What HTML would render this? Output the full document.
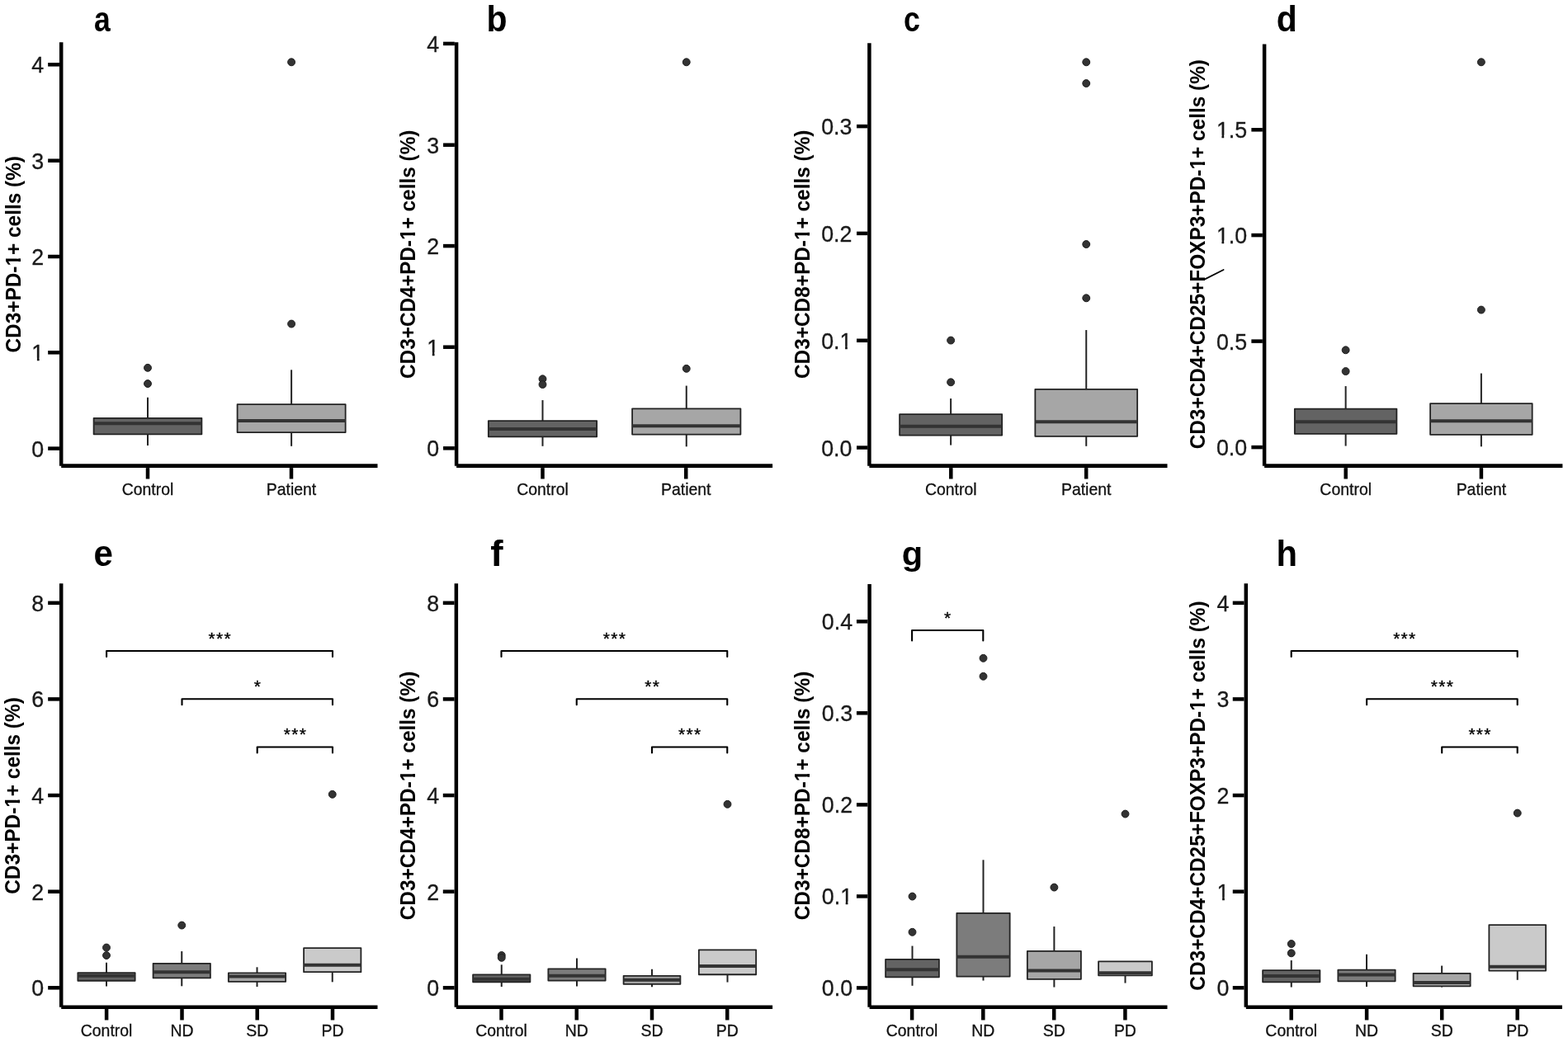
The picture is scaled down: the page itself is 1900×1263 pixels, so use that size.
<!DOCTYPE html>
<html lang="en">
<head>
<meta charset="utf-8">
<title>PD-1+ cell subsets box plots</title>
<style>
html,body{margin:0;padding:0;background:#fff;}
body{width:1900px;height:1263px;overflow:hidden;}
svg{display:block;}
text{font-family:"Liberation Sans",sans-serif;fill:#1a1a1a;}
.yt{font-size:26.8px;text-anchor:end;stroke:#1a1a1a;stroke-width:0.3;}
.xt{font-size:19.45px;text-anchor:middle;fill:#111;stroke:#111;stroke-width:0.3;}
.ttl{font-size:24.4px;font-weight:bold;text-anchor:middle;fill:#000;}
.ltr{font-size:36px;font-weight:bold;fill:#000;}
.star{font-size:21.0px;text-anchor:middle;fill:#000;letter-spacing:1.3px;stroke:#000;stroke-width:0.35;}
.ax{stroke:#000;stroke-width:4.5;fill:none;}
.tk{stroke:#000;stroke-width:4.5;fill:none;}
.bx{stroke:#232323;stroke-width:1.8;stroke-linejoin:round;}
.md{stroke:#333333;stroke-width:4.0;}
.wh{stroke:#232323;stroke-width:2.0;}
.br{stroke:#000;stroke-width:2.1;fill:none;stroke-linejoin:round;stroke-linecap:round;}
.pt{fill:#333333;stroke:#1e1e1e;stroke-width:1;}
</style>
</head>
<body>
<svg width="1900" height="1263" viewBox="0 0 1900 1263">
<rect x="0" y="0" width="1900" height="1263" fill="#ffffff"/>

<g id="panel-a">
<text class="ltr" transform="translate(114.09,37.87) scale(0.9849,1.1923)">a</text>
<text class="ttl" transform="translate(24.6,308.3) rotate(-90) scale(1,1.05)">CD3+PD-1+ cells (%)</text>
<g transform="translate(24.6,308.3) rotate(-90) scale(1,1.05) translate(-14.27,0)"><rect x="0.52" y="-4.00" width="4.98" height="6.20" fill="#fff"/><rect x="9.23" y="-4.00" width="4.67" height="6.20" fill="#fff"/></g>
<line class="wh" x1="179" y1="481.8" x2="179" y2="506.8"/>
<line class="wh" x1="179" y1="526.3" x2="179" y2="540.05"/>
<rect class="bx" x="113.6" y="506.8" width="130.8" height="19.5" fill="#636363"/>
<line class="md" x1="113.6" y1="513.3" x2="244.4" y2="513.3"/>
<circle class="pt" cx="179" cy="445.8" r="4.45"/>
<circle class="pt" cx="179" cy="465.05" r="4.45"/>
<line class="wh" x1="353.12" y1="448.3" x2="353.12" y2="490.05"/>
<line class="wh" x1="353.12" y1="524.05" x2="353.12" y2="540.8"/>
<rect class="bx" x="287.6" y="490.05" width="131.05" height="34" fill="#a6a6a6"/>
<line class="md" x1="287.6" y1="510.05" x2="418.65" y2="510.05"/>
<circle class="pt" cx="353.12" cy="392.55" r="4.45"/>
<circle class="pt" cx="353.12" cy="75.3" r="4.45"/>
<line class="ax" x1="74.2" y1="51.3" x2="74.2" y2="564.65"/>
<line class="ax" style="stroke-width:4.9" x1="74.2" y1="564.65" x2="457.5" y2="564.65"/>
<line class="tk" x1="58.15" y1="543.6" x2="71.95" y2="543.6"/>
<text class="yt" transform="translate(53.25,553.67) scale(1,1.05)">0</text>
<line class="tk" x1="58.15" y1="427.3" x2="71.95" y2="427.3"/>
<text class="yt" transform="translate(53.25,437.37) scale(1,1.05)">1</text>
<g transform="translate(38.35,437.37) scale(1,1.05)"><rect x="1.04" y="-3.51" width="5.49" height="5.71" fill="#fff"/><rect x="9.31" y="-3.51" width="5.29" height="5.71" fill="#fff"/></g>
<line class="tk" x1="58.15" y1="311" x2="71.95" y2="311"/>
<text class="yt" transform="translate(53.25,321.07) scale(1,1.05)">2</text>
<line class="tk" x1="58.15" y1="194.7" x2="71.95" y2="194.7"/>
<text class="yt" transform="translate(53.25,204.77) scale(1,1.05)">3</text>
<line class="tk" x1="58.15" y1="78.3" x2="71.95" y2="78.3"/>
<text class="yt" transform="translate(53.25,88.37) scale(1,1.05)">4</text>
<line class="tk" x1="179" y1="567.1" x2="179" y2="580.5"/>
<text class="xt" transform="translate(179,599.55) scale(1,1.03)">Control</text>
<line class="tk" x1="353" y1="567.1" x2="353" y2="580.5"/>
<text class="xt" transform="translate(353,599.55) scale(1,1.03)">Patient</text>
</g>
<g id="panel-b">
<text class="ltr" transform="translate(589.44,37.66) scale(1.1386,1.2245)">b</text>
<text class="ttl" transform="translate(502.9,308.3) rotate(-90) scale(1,1.05)">CD3+CD4+PD-1+ cells (%)</text>
<g transform="translate(502.9,308.3) rotate(-90) scale(1,1.05) translate(17.27,0)"><rect x="0.52" y="-4.00" width="4.98" height="6.20" fill="#fff"/><rect x="9.23" y="-4.00" width="4.67" height="6.20" fill="#fff"/></g>
<line class="wh" x1="657.5" y1="485.05" x2="657.5" y2="510.05"/>
<line class="wh" x1="657.5" y1="529.3" x2="657.5" y2="540.8"/>
<rect class="bx" x="591.85" y="510.05" width="131.3" height="19.25" fill="#636363"/>
<line class="md" x1="591.85" y1="520.05" x2="723.15" y2="520.05"/>
<circle class="pt" cx="657.5" cy="459.3" r="4.45"/>
<circle class="pt" cx="657.5" cy="466" r="4.45"/>
<line class="wh" x1="831.75" y1="467.55" x2="831.75" y2="495.3"/>
<line class="wh" x1="831.75" y1="526.55" x2="831.75" y2="541.3"/>
<rect class="bx" x="766.1" y="495.3" width="131.3" height="31.25" fill="#a6a6a6"/>
<line class="md" x1="766.1" y1="516.3" x2="897.4" y2="516.3"/>
<circle class="pt" cx="831.75" cy="446.8" r="4.45"/>
<circle class="pt" cx="831.75" cy="75.3" r="4.45"/>
<line class="ax" x1="553.1" y1="51.3" x2="553.1" y2="564.65"/>
<line class="ax" style="stroke-width:4.9" x1="553.1" y1="564.65" x2="936.1" y2="564.65"/>
<line class="tk" x1="537.05" y1="543.3" x2="550.85" y2="543.3"/>
<text class="yt" transform="translate(532.15,553.37) scale(1,1.05)">0</text>
<line class="tk" x1="537.05" y1="420.7" x2="550.85" y2="420.7"/>
<text class="yt" transform="translate(532.15,430.77) scale(1,1.05)">1</text>
<g transform="translate(517.25,430.77) scale(1,1.05)"><rect x="1.04" y="-3.51" width="5.49" height="5.71" fill="#fff"/><rect x="9.31" y="-3.51" width="5.29" height="5.71" fill="#fff"/></g>
<line class="tk" x1="537.05" y1="298.1" x2="550.85" y2="298.1"/>
<text class="yt" transform="translate(532.15,308.17) scale(1,1.05)">2</text>
<line class="tk" x1="537.05" y1="175.7" x2="550.85" y2="175.7"/>
<text class="yt" transform="translate(532.15,185.77) scale(1,1.05)">3</text>
<line class="tk" x1="537.05" y1="52.9" x2="550.85" y2="52.9"/>
<text class="yt" transform="translate(532.15,62.97) scale(1,1.05)">4</text>
<line class="tk" x1="657.5" y1="567.1" x2="657.5" y2="580.5"/>
<text class="xt" transform="translate(657.5,599.55) scale(1,1.03)">Control</text>
<line class="tk" x1="831.25" y1="567.1" x2="831.25" y2="580.5"/>
<text class="xt" transform="translate(831.25,599.55) scale(1,1.03)">Patient</text>
</g>
<g id="panel-c">
<text class="ltr" transform="translate(1094.97,38.07) scale(0.9949,1.2024)">c</text>
<text class="ttl" transform="translate(981.4,308.3) rotate(-90) scale(1,1.05)">CD3+CD8+PD-1+ cells (%)</text>
<g transform="translate(981.4,308.3) rotate(-90) scale(1,1.05) translate(17.27,0)"><rect x="0.52" y="-4.00" width="4.98" height="6.20" fill="#fff"/><rect x="9.23" y="-4.00" width="4.67" height="6.20" fill="#fff"/></g>
<line class="wh" x1="1152.12" y1="483.05" x2="1152.12" y2="502.05"/>
<line class="wh" x1="1152.12" y1="527.55" x2="1152.12" y2="539.55"/>
<rect class="bx" x="1090.1" y="502.05" width="124.05" height="25.5" fill="#636363"/>
<line class="md" x1="1090.1" y1="516.8" x2="1214.15" y2="516.8"/>
<circle class="pt" cx="1152.12" cy="412.55" r="4.45"/>
<circle class="pt" cx="1152.12" cy="463.3" r="4.45"/>
<line class="wh" x1="1316.25" y1="400.05" x2="1316.25" y2="471.8"/>
<line class="wh" x1="1316.25" y1="528.8" x2="1316.25" y2="540.8"/>
<rect class="bx" x="1254.35" y="471.8" width="123.8" height="57" fill="#a6a6a6"/>
<line class="md" x1="1254.35" y1="511.3" x2="1378.15" y2="511.3"/>
<circle class="pt" cx="1316.25" cy="361.3" r="4.45"/>
<circle class="pt" cx="1316.25" cy="296.05" r="4.45"/>
<circle class="pt" cx="1316.25" cy="101.05" r="4.45"/>
<circle class="pt" cx="1316.25" cy="75.3" r="4.45"/>
<line class="ax" x1="1053.4" y1="52.3" x2="1053.4" y2="564.65"/>
<line class="ax" style="stroke-width:4.9" x1="1053.4" y1="564.65" x2="1414.5" y2="564.65"/>
<line class="tk" x1="1038.05" y1="542.55" x2="1051.15" y2="542.55"/>
<text class="yt" transform="translate(1032.45,552.62) scale(1,1.05)">0.0</text>
<line class="tk" x1="1038.05" y1="412.75" x2="1051.15" y2="412.75"/>
<text class="yt" transform="translate(1032.45,422.82) scale(1,1.05)">0.1</text>
<g transform="translate(1017.55,422.82) scale(1,1.05)"><rect x="1.04" y="-3.51" width="5.49" height="5.71" fill="#fff"/><rect x="9.31" y="-3.51" width="5.29" height="5.71" fill="#fff"/></g>
<line class="tk" x1="1038.05" y1="282.9" x2="1051.15" y2="282.9"/>
<text class="yt" transform="translate(1032.45,292.97) scale(1,1.05)">0.2</text>
<line class="tk" x1="1038.05" y1="153.1" x2="1051.15" y2="153.1"/>
<text class="yt" transform="translate(1032.45,163.17) scale(1,1.05)">0.3</text>
<line class="tk" x1="1152.3" y1="567.1" x2="1152.3" y2="580.5"/>
<text class="xt" transform="translate(1152.3,599.55) scale(1,1.03)">Control</text>
<line class="tk" x1="1316.2" y1="567.1" x2="1316.2" y2="580.5"/>
<text class="xt" transform="translate(1316.2,599.55) scale(1,1.03)">Patient</text>
</g>
<g id="panel-d">
<text class="ltr" transform="translate(1546.72,37.86) scale(1.1364,1.2320)">d</text>
<text class="ttl" transform="translate(1460.1,308.2) rotate(-90) scale(1,1.05)">CD3+CD4+CD25+FOXP3+PD-1+ cells (%)</text>
<g transform="translate(1460.1,308.2) rotate(-90) scale(1,1.05) translate(102.66,0)"><rect x="0.52" y="-4.00" width="4.98" height="6.20" fill="#fff"/><rect x="9.23" y="-4.00" width="4.67" height="6.20" fill="#fff"/></g>
<line class="wh" x1="1630.62" y1="468.05" x2="1630.62" y2="495.55"/>
<line class="wh" x1="1630.62" y1="525.8" x2="1630.62" y2="540.55"/>
<rect class="bx" x="1568.85" y="495.55" width="123.55" height="30.25" fill="#636363"/>
<line class="md" x1="1568.85" y1="511.3" x2="1692.4" y2="511.3"/>
<circle class="pt" cx="1630.62" cy="424.3" r="4.45"/>
<circle class="pt" cx="1630.62" cy="450.05" r="4.45"/>
<line class="wh" x1="1794.88" y1="452.55" x2="1794.88" y2="489.05"/>
<line class="wh" x1="1794.88" y1="526.8" x2="1794.88" y2="541.3"/>
<rect class="bx" x="1733.1" y="489.05" width="123.55" height="37.75" fill="#a6a6a6"/>
<line class="md" x1="1733.1" y1="510.3" x2="1856.65" y2="510.3"/>
<circle class="pt" cx="1794.88" cy="375.55" r="4.45"/>
<circle class="pt" cx="1794.88" cy="75.3" r="4.45"/>
<line class="ax" x1="1532.1" y1="53.5" x2="1532.1" y2="564.65"/>
<line class="ax" style="stroke-width:4.9" x1="1532.1" y1="564.65" x2="1893.4" y2="564.65"/>
<line class="tk" x1="1516.35" y1="542.1" x2="1529.85" y2="542.1"/>
<text class="yt" transform="translate(1511.15,552.17) scale(1,1.05)">0.0</text>
<line class="tk" x1="1516.35" y1="413.6" x2="1529.85" y2="413.6"/>
<text class="yt" transform="translate(1511.15,423.67) scale(1,1.05)">0.5</text>
<line class="tk" x1="1516.35" y1="285.1" x2="1529.85" y2="285.1"/>
<text class="yt" transform="translate(1511.15,295.17) scale(1,1.05)">1.0</text>
<g transform="translate(1473.89,295.17) scale(1,1.05)"><rect x="1.04" y="-3.51" width="5.49" height="5.71" fill="#fff"/><rect x="9.31" y="-3.51" width="5.29" height="5.71" fill="#fff"/></g>
<line class="tk" x1="1516.35" y1="157.3" x2="1529.85" y2="157.3"/>
<text class="yt" transform="translate(1511.15,167.37) scale(1,1.05)">1.5</text>
<g transform="translate(1473.89,167.37) scale(1,1.05)"><rect x="1.04" y="-3.51" width="5.49" height="5.71" fill="#fff"/><rect x="9.31" y="-3.51" width="5.29" height="5.71" fill="#fff"/></g>
<line class="tk" x1="1630.7" y1="567.1" x2="1630.7" y2="580.5"/>
<text class="xt" transform="translate(1630.7,599.55) scale(1,1.03)">Control</text>
<line class="tk" x1="1794.9" y1="567.1" x2="1794.9" y2="580.5"/>
<text class="xt" transform="translate(1794.9,599.55) scale(1,1.03)">Patient</text>
<line x1="1459.6" y1="338.6" x2="1482.6" y2="327.0" stroke="#050505" stroke-width="1.8" stroke-linecap="round"/>
</g>
<g id="panel-e">
<text class="ltr" transform="translate(113.47,686.43) scale(1.1693,1.2111)">e</text>
<text class="ttl" transform="translate(24.2,964.5) rotate(-90) scale(1,1.05)">CD3+PD-1+ cells (%)</text>
<g transform="translate(24.2,964.5) rotate(-90) scale(1,1.05) translate(-14.27,0)"><rect x="0.52" y="-4.00" width="4.98" height="6.20" fill="#fff"/><rect x="9.23" y="-4.00" width="4.67" height="6.20" fill="#fff"/></g>
<line class="wh" x1="129" y1="1166.8" x2="129" y2="1179.05"/>
<line class="wh" x1="129" y1="1188.75" x2="129" y2="1195.55"/>
<rect class="bx" x="94.35" y="1179.05" width="69.3" height="9.7" fill="#636363"/>
<line class="md" x1="94.35" y1="1182.7" x2="163.65" y2="1182.7"/>
<circle class="pt" cx="129" cy="1148.55" r="4.45"/>
<circle class="pt" cx="129" cy="1158.05" r="4.45"/>
<line class="wh" x1="220.25" y1="1153.05" x2="220.25" y2="1167.8"/>
<line class="wh" x1="220.25" y1="1185.4" x2="220.25" y2="1195.3"/>
<rect class="bx" x="185.6" y="1167.8" width="69.3" height="17.6" fill="#7c7c7c"/>
<line class="md" x1="185.6" y1="1178.2" x2="254.9" y2="1178.2"/>
<circle class="pt" cx="220.25" cy="1121.55" r="4.45"/>
<line class="wh" x1="311.5" y1="1172.3" x2="311.5" y2="1179.45"/>
<line class="wh" x1="311.5" y1="1189.8" x2="311.5" y2="1196.05"/>
<rect class="bx" x="276.85" y="1179.45" width="69.3" height="10.35" fill="#a6a6a6"/>
<line class="md" x1="276.85" y1="1183.55" x2="346.15" y2="1183.55"/>
<line class="wh" x1="402.75" y1="1178.15" x2="402.75" y2="1190.3"/>
<rect class="bx" x="368.1" y="1149.05" width="69.3" height="29.1" fill="#cacaca"/>
<line class="md" x1="368.1" y1="1169.8" x2="437.4" y2="1169.8"/>
<circle class="pt" cx="402.75" cy="962.8" r="4.45"/>
<path class="br" d="M129.1 796.05V789.05H403V796.05"/>
<text class="star" x="266.7" y="780.55">***</text>
<path class="br" d="M220.5 854.3V847.3H403V854.3"/>
<text class="star" x="312.4" y="838.8">*</text>
<path class="br" d="M311.7 912.55V905.55H403V912.55"/>
<text class="star" x="358" y="897.05">***</text>
<line class="ax" x1="74.2" y1="707.3" x2="74.2" y2="1220.8"/>
<line class="ax" style="stroke-width:4.5" x1="74.2" y1="1220.8" x2="457.5" y2="1220.8"/>
<line class="tk" x1="58.15" y1="1197.3" x2="71.95" y2="1197.3"/>
<text class="yt" transform="translate(53.25,1207.37) scale(1,1.05)">0</text>
<line class="tk" x1="58.15" y1="1080.7" x2="71.95" y2="1080.7"/>
<text class="yt" transform="translate(53.25,1090.77) scale(1,1.05)">2</text>
<line class="tk" x1="58.15" y1="964.05" x2="71.95" y2="964.05"/>
<text class="yt" transform="translate(53.25,974.12) scale(1,1.05)">4</text>
<line class="tk" x1="58.15" y1="847.4" x2="71.95" y2="847.4"/>
<text class="yt" transform="translate(53.25,857.47) scale(1,1.05)">6</text>
<line class="tk" x1="58.15" y1="730.8" x2="71.95" y2="730.8"/>
<text class="yt" transform="translate(53.25,740.87) scale(1,1.05)">8</text>
<line class="tk" x1="129.1" y1="1223.05" x2="129.1" y2="1236.45"/>
<text class="xt" transform="translate(129.1,1255.95) scale(1,1.03)">Control</text>
<line class="tk" x1="220.5" y1="1223.05" x2="220.5" y2="1236.45"/>
<text class="xt" transform="translate(220.5,1255.95) scale(1,1.06)">ND</text>
<line class="tk" x1="311.7" y1="1223.05" x2="311.7" y2="1236.45"/>
<text class="xt" transform="translate(311.7,1255.95) scale(1,1.06)">SD</text>
<line class="tk" x1="403" y1="1223.05" x2="403" y2="1236.45"/>
<text class="xt" transform="translate(403,1255.95) scale(1,1.06)">PD</text>
</g>
<g id="panel-f">
<text class="ltr" transform="translate(594.16,686.00) scale(1.2782,1.2490)">f</text>
<text class="ttl" transform="translate(502.9,964.5) rotate(-90) scale(1,1.05)">CD3+CD4+PD-1+ cells (%)</text>
<g transform="translate(502.9,964.5) rotate(-90) scale(1,1.05) translate(17.27,0)"><rect x="0.52" y="-4.00" width="4.98" height="6.20" fill="#fff"/><rect x="9.23" y="-4.00" width="4.67" height="6.20" fill="#fff"/></g>
<line class="wh" x1="607.75" y1="1169.3" x2="607.75" y2="1181.45"/>
<line class="wh" x1="607.75" y1="1190.25" x2="607.75" y2="1196.05"/>
<rect class="bx" x="573.1" y="1181.45" width="69.3" height="8.8" fill="#636363"/>
<line class="md" x1="573.1" y1="1186.7" x2="642.4" y2="1186.7"/>
<circle class="pt" cx="607.75" cy="1158" r="4.45"/>
<circle class="pt" cx="607.75" cy="1160.8" r="4.45"/>
<line class="wh" x1="699" y1="1161.55" x2="699" y2="1174.3"/>
<line class="wh" x1="699" y1="1188.55" x2="699" y2="1195.55"/>
<rect class="bx" x="664.35" y="1174.3" width="69.3" height="14.25" fill="#7c7c7c"/>
<line class="md" x1="664.35" y1="1182.7" x2="733.65" y2="1182.7"/>
<line class="wh" x1="790" y1="1174.8" x2="790" y2="1182.8"/>
<line class="wh" x1="790" y1="1192.8" x2="790" y2="1196.3"/>
<rect class="bx" x="755.6" y="1182.8" width="68.8" height="10" fill="#a6a6a6"/>
<line class="md" x1="755.6" y1="1187.8" x2="824.4" y2="1187.8"/>
<line class="wh" x1="881.5" y1="1181.25" x2="881.5" y2="1190.55"/>
<rect class="bx" x="846.85" y="1151.3" width="69.3" height="29.95" fill="#cacaca"/>
<line class="md" x1="846.85" y1="1170.9" x2="916.15" y2="1170.9"/>
<circle class="pt" cx="881.5" cy="974.8" r="4.45"/>
<path class="br" d="M607.5 796.05V789.05H881.25V796.05"/>
<text class="star" x="745.02" y="780.55">***</text>
<path class="br" d="M698.75 854.3V847.3H881.25V854.3"/>
<text class="star" x="790.65" y="838.8">**</text>
<path class="br" d="M790 912.55V905.55H881.25V912.55"/>
<text class="star" x="836.27" y="897.05">***</text>
<line class="ax" x1="552.85" y1="707.3" x2="552.85" y2="1220.8"/>
<line class="ax" style="stroke-width:4.5" x1="552.85" y1="1220.8" x2="936.1" y2="1220.8"/>
<line class="tk" x1="536.8" y1="1197.3" x2="550.6" y2="1197.3"/>
<text class="yt" transform="translate(532.15,1207.37) scale(1,1.05)">0</text>
<line class="tk" x1="536.8" y1="1080.7" x2="550.6" y2="1080.7"/>
<text class="yt" transform="translate(532.15,1090.77) scale(1,1.05)">2</text>
<line class="tk" x1="536.8" y1="964.05" x2="550.6" y2="964.05"/>
<text class="yt" transform="translate(532.15,974.12) scale(1,1.05)">4</text>
<line class="tk" x1="536.8" y1="847.4" x2="550.6" y2="847.4"/>
<text class="yt" transform="translate(532.15,857.47) scale(1,1.05)">6</text>
<line class="tk" x1="536.8" y1="730.8" x2="550.6" y2="730.8"/>
<text class="yt" transform="translate(532.15,740.87) scale(1,1.05)">8</text>
<line class="tk" x1="607.5" y1="1223.05" x2="607.5" y2="1236.45"/>
<text class="xt" transform="translate(607.5,1255.95) scale(1,1.03)">Control</text>
<line class="tk" x1="698.75" y1="1223.05" x2="698.75" y2="1236.45"/>
<text class="xt" transform="translate(698.75,1255.95) scale(1,1.06)">ND</text>
<line class="tk" x1="790" y1="1223.05" x2="790" y2="1236.45"/>
<text class="xt" transform="translate(790,1255.95) scale(1,1.06)">SD</text>
<line class="tk" x1="881.25" y1="1223.05" x2="881.25" y2="1236.45"/>
<text class="xt" transform="translate(881.25,1255.95) scale(1,1.06)">PD</text>
</g>
<g id="panel-g">
<text class="ltr" transform="translate(1092.78,685.27) scale(1.1562,1.1407)">g</text>
<text class="ttl" transform="translate(980.9,964.5) rotate(-90) scale(1,1.05)">CD3+CD8+PD-1+ cells (%)</text>
<g transform="translate(980.9,964.5) rotate(-90) scale(1,1.05) translate(17.27,0)"><rect x="0.52" y="-4.00" width="4.98" height="6.20" fill="#fff"/><rect x="9.23" y="-4.00" width="4.67" height="6.20" fill="#fff"/></g>
<line class="wh" x1="1105.5" y1="1146.55" x2="1105.5" y2="1162.8"/>
<line class="wh" x1="1105.5" y1="1184.3" x2="1105.5" y2="1194.8"/>
<rect class="bx" x="1073.1" y="1162.8" width="64.8" height="21.5" fill="#636363"/>
<line class="md" x1="1073.1" y1="1175.3" x2="1137.9" y2="1175.3"/>
<circle class="pt" cx="1105.5" cy="1086.55" r="4.45"/>
<circle class="pt" cx="1105.5" cy="1129.8" r="4.45"/>
<line class="wh" x1="1191.5" y1="1042.3" x2="1191.5" y2="1106.8"/>
<line class="wh" x1="1191.5" y1="1183.55" x2="1191.5" y2="1188.55"/>
<rect class="bx" x="1159.35" y="1106.8" width="64.3" height="76.75" fill="#7c7c7c"/>
<line class="md" x1="1159.35" y1="1159.8" x2="1223.65" y2="1159.8"/>
<circle class="pt" cx="1191.5" cy="797.8" r="4.45"/>
<circle class="pt" cx="1191.5" cy="819.8" r="4.45"/>
<line class="wh" x1="1277.38" y1="1123.05" x2="1277.38" y2="1152.8"/>
<line class="wh" x1="1277.38" y1="1186.8" x2="1277.38" y2="1196.55"/>
<rect class="bx" x="1244.85" y="1152.8" width="65.05" height="34" fill="#a6a6a6"/>
<line class="md" x1="1244.85" y1="1176.55" x2="1309.9" y2="1176.55"/>
<circle class="pt" cx="1277.38" cy="1075.55" r="4.45"/>
<line class="wh" x1="1363.5" y1="1182.3" x2="1363.5" y2="1191.55"/>
<rect class="bx" x="1331.1" y="1165.3" width="64.8" height="17" fill="#cacaca"/>
<line class="md" x1="1331.1" y1="1179.3" x2="1395.9" y2="1179.3"/>
<circle class="pt" cx="1363.5" cy="986.55" r="4.45"/>
<path class="br" d="M1105.1 776.45V764.05H1191.3V776.45"/>
<text class="star" x="1148.85" y="755.55">*</text>
<line class="ax" x1="1053.6" y1="707.9" x2="1053.6" y2="1220.8"/>
<line class="ax" style="stroke-width:4.5" x1="1053.6" y1="1220.8" x2="1414.5" y2="1220.8"/>
<line class="tk" x1="1037.95" y1="1197.4" x2="1051.35" y2="1197.4"/>
<text class="yt" transform="translate(1033.05,1207.47) scale(1,1.05)">0.0</text>
<line class="tk" x1="1037.95" y1="1086.4" x2="1051.35" y2="1086.4"/>
<text class="yt" transform="translate(1033.05,1096.47) scale(1,1.05)">0.1</text>
<g transform="translate(1018.15,1096.47) scale(1,1.05)"><rect x="1.04" y="-3.51" width="5.49" height="5.71" fill="#fff"/><rect x="9.31" y="-3.51" width="5.29" height="5.71" fill="#fff"/></g>
<line class="tk" x1="1037.95" y1="975.4" x2="1051.35" y2="975.4"/>
<text class="yt" transform="translate(1033.05,985.47) scale(1,1.05)">0.2</text>
<line class="tk" x1="1037.95" y1="864.3" x2="1051.35" y2="864.3"/>
<text class="yt" transform="translate(1033.05,874.37) scale(1,1.05)">0.3</text>
<line class="tk" x1="1037.95" y1="753.3" x2="1051.35" y2="753.3"/>
<text class="yt" transform="translate(1033.05,763.37) scale(1,1.05)">0.4</text>
<line class="tk" x1="1105.1" y1="1223.05" x2="1105.1" y2="1236.45"/>
<text class="xt" transform="translate(1105.1,1255.95) scale(1,1.03)">Control</text>
<line class="tk" x1="1191.3" y1="1223.05" x2="1191.3" y2="1236.45"/>
<text class="xt" transform="translate(1191.3,1255.95) scale(1,1.06)">ND</text>
<line class="tk" x1="1277.2" y1="1223.05" x2="1277.2" y2="1236.45"/>
<text class="xt" transform="translate(1277.2,1255.95) scale(1,1.06)">SD</text>
<line class="tk" x1="1363.4" y1="1223.05" x2="1363.4" y2="1236.45"/>
<text class="xt" transform="translate(1363.4,1255.95) scale(1,1.06)">PD</text>
</g>
<g id="panel-h">
<text class="ltr" transform="translate(1546.40,686.00) scale(1.1609,1.2360)">h</text>
<text class="ttl" transform="translate(1459.9,964.5) rotate(-90) scale(1,1.05)">CD3+CD4+CD25+FOXP3+PD-1+ cells (%)</text>
<g transform="translate(1459.9,964.5) rotate(-90) scale(1,1.05) translate(102.66,0)"><rect x="0.52" y="-4.00" width="4.98" height="6.20" fill="#fff"/><rect x="9.23" y="-4.00" width="4.67" height="6.20" fill="#fff"/></g>
<line class="wh" x1="1564.75" y1="1164.05" x2="1564.75" y2="1176.05"/>
<line class="wh" x1="1564.75" y1="1190.3" x2="1564.75" y2="1196.55"/>
<rect class="bx" x="1530.1" y="1176.05" width="69.3" height="14.25" fill="#636363"/>
<line class="md" x1="1530.1" y1="1183.05" x2="1599.4" y2="1183.05"/>
<circle class="pt" cx="1564.75" cy="1144.05" r="4.45"/>
<circle class="pt" cx="1564.75" cy="1155.3" r="4.45"/>
<line class="wh" x1="1656" y1="1156.8" x2="1656" y2="1175.6"/>
<line class="wh" x1="1656" y1="1189.3" x2="1656" y2="1196.05"/>
<rect class="bx" x="1621.35" y="1175.6" width="69.3" height="13.7" fill="#7c7c7c"/>
<line class="md" x1="1621.35" y1="1181.5" x2="1690.65" y2="1181.5"/>
<line class="wh" x1="1747.12" y1="1170.55" x2="1747.12" y2="1179.8"/>
<line class="wh" x1="1747.12" y1="1195.3" x2="1747.12" y2="1196.6"/>
<rect class="bx" x="1712.6" y="1179.8" width="69.05" height="15.5" fill="#a6a6a6"/>
<line class="md" x1="1712.6" y1="1191" x2="1781.65" y2="1191"/>
<line class="wh" x1="1838.75" y1="1176.55" x2="1838.75" y2="1187.8"/>
<rect class="bx" x="1804.35" y="1121.05" width="68.8" height="55.5" fill="#cacaca"/>
<line class="md" x1="1804.35" y1="1171.8" x2="1873.15" y2="1171.8"/>
<circle class="pt" cx="1838.75" cy="985.55" r="4.45"/>
<path class="br" d="M1564.7 796.05V789.05H1838.7V796.05"/>
<text class="star" x="1702.35" y="780.55">***</text>
<path class="br" d="M1656.1 854.3V847.3H1838.7V854.3"/>
<text class="star" x="1748.05" y="838.8">***</text>
<path class="br" d="M1747.2 912.55V905.55H1838.7V912.55"/>
<text class="star" x="1793.6" y="897.05">***</text>
<line class="ax" x1="1509.8" y1="707.3" x2="1509.8" y2="1220.8"/>
<line class="ax" style="stroke-width:4.5" x1="1509.8" y1="1220.8" x2="1893" y2="1220.8"/>
<line class="tk" x1="1493.75" y1="1197.3" x2="1507.55" y2="1197.3"/>
<text class="yt" transform="translate(1489.45,1207.37) scale(1,1.05)">0</text>
<line class="tk" x1="1493.75" y1="1080.7" x2="1507.55" y2="1080.7"/>
<text class="yt" transform="translate(1489.45,1090.77) scale(1,1.05)">1</text>
<g transform="translate(1474.55,1090.77) scale(1,1.05)"><rect x="1.04" y="-3.51" width="5.49" height="5.71" fill="#fff"/><rect x="9.31" y="-3.51" width="5.29" height="5.71" fill="#fff"/></g>
<line class="tk" x1="1493.75" y1="964.05" x2="1507.55" y2="964.05"/>
<text class="yt" transform="translate(1489.45,974.12) scale(1,1.05)">2</text>
<line class="tk" x1="1493.75" y1="847.4" x2="1507.55" y2="847.4"/>
<text class="yt" transform="translate(1489.45,857.47) scale(1,1.05)">3</text>
<line class="tk" x1="1493.75" y1="730.8" x2="1507.55" y2="730.8"/>
<text class="yt" transform="translate(1489.45,740.87) scale(1,1.05)">4</text>
<line class="tk" x1="1564.7" y1="1223.05" x2="1564.7" y2="1236.45"/>
<text class="xt" transform="translate(1564.7,1255.95) scale(1,1.03)">Control</text>
<line class="tk" x1="1656.1" y1="1223.05" x2="1656.1" y2="1236.45"/>
<text class="xt" transform="translate(1656.1,1255.95) scale(1,1.06)">ND</text>
<line class="tk" x1="1747.2" y1="1223.05" x2="1747.2" y2="1236.45"/>
<text class="xt" transform="translate(1747.2,1255.95) scale(1,1.06)">SD</text>
<line class="tk" x1="1838.7" y1="1223.05" x2="1838.7" y2="1236.45"/>
<text class="xt" transform="translate(1838.7,1255.95) scale(1,1.06)">PD</text>
</g>
</svg>
</body>
</html>
